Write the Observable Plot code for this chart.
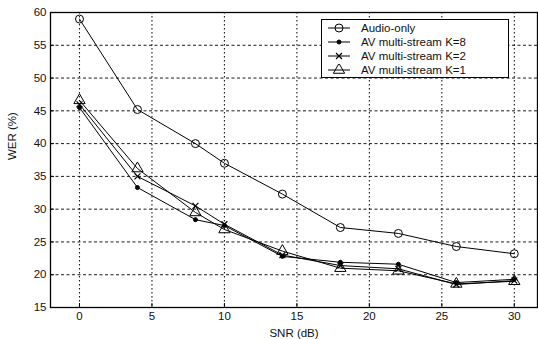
<!DOCTYPE html>
<html>
<head>
<meta charset="utf-8">
<script src="https://cdn.jsdelivr.net/npm/d3@7"></script>
<script src="https://cdn.jsdelivr.net/npm/@observablehq/plot@0.6"></script>
<style>
  html, body { margin: 0; padding: 0; background: #fff; }
  #wrap { position: relative; width: 538px; height: 339px; font-family: "Liberation Sans", Arial, sans-serif; }
  #legend { position: absolute; left: 321px; top: 19px; width: 188px; height: 59px; border: 1.3px solid #000; background: #fff; box-sizing: border-box; }
  .row { position: absolute; left: 0; height: 14px; display: flex; align-items: center; font-size: 11.5px; color: #111; }
  .row svg { margin-left: 5px; margin-right: 10px; }
</style>
</head>
<body>
<div id="wrap"></div>
<script>
const snr = [0, 4, 8, 10, 14, 18, 22, 26, 30];
const audioOnly = [59, 45.2, 40, 37, 32.3, 27.2, 26.3, 24.3, 23.2];
const avK8 = [45.5, 33.3, 28.4, 27.5, 22.8, 21.9, 21.6, 18.8, 19.3];
const avK2 = [46.0, 35.0, 30.5, 27.7, 23.0, 21.4, 20.9, 18.5, 19.1];
const avK1 = [46.6, 36.2, 29.5, 26.9, 23.6, 21.0, 20.6, 18.6, 19.0];
const seriesNames = ["Audio-only", "AV multi-stream K=8", "AV multi-stream K=2", "AV multi-stream K=1"];
const xTicks = [0, 5, 10, 15, 20, 25, 30];
const yTicks = [15, 20, 25, 30, 35, 40, 45, 50, 55, 60];

const styles = [
  {symbol: "circle", r: 4, fill: "none", strokeWidth: 1},
  {symbol: "circle", r: 2, fill: "#000", strokeWidth: 1},
  {symbol: "times", r: 2.8, fill: "none", strokeWidth: 1.2},
  {symbol: "triangle", r: 4.2, fill: "none", strokeWidth: 1}
];
const allSeries = [audioOnly, avK8, avK2, avK1];
const data = [];
allSeries.forEach((vals, i) => vals.forEach((v, j) => data.push({series: seriesNames[i], idx: i, snr: snr[j], wer: v})));

const marks = [
  Plot.gridX(xTicks, {stroke: "#000", strokeOpacity: 0.9, strokeDasharray: "1.5,2.5", strokeWidth: 1.1}),
  Plot.gridY(yTicks, {stroke: "#000", strokeOpacity: 0.9, strokeDasharray: "3,2.5", strokeWidth: 1}),
  Plot.frame({stroke: "#000", strokeWidth: 1.3}),
  Plot.axisX(xTicks, {tickSize: -4, tickPadding: 8, fontSize: 11.5, fill: "#111", label: null}),
  Plot.axisY(yTicks, {tickSize: -4, tickPadding: 8, fontSize: 11.5, fill: "#111", label: null}),
  Plot.text(["SNR (dB)"], {frameAnchor: "bottom", dy: 29, fontSize: 11.5, fill: "#111"}),
  Plot.text(["WER (%)"], {frameAnchor: "left", dx: -38, rotate: -90, fontSize: 11.5, fill: "#111"})
];
styles.forEach((s, i) => {
  const d = data.filter(e => e.idx === i);
  marks.push(Plot.line(d, {x: "snr", y: "wer", stroke: "#000", strokeWidth: 1}));
  marks.push(Plot.dot(d, {x: "snr", y: "wer", symbol: () => s.symbol, r: s.r, stroke: "#000", fill: s.fill, strokeWidth: s.strokeWidth}));
});

const chart = Plot.plot({
  width: 538,
  height: 339,
  marginLeft: 50,
  marginRight: 1,
  marginTop: 12,
  marginBottom: 32,
  style: {fontFamily: "'Liberation Sans', Arial, sans-serif", background: "#fff", overflow: "visible"},
  x: {domain: [-2, 31.6]},
  y: {domain: [15, 60]},
  marks
});
const wrap = document.getElementById("wrap");
wrap.appendChild(chart);

// legend
const legend = d3.select(wrap).append("div").attr("id", "legend");
seriesNames.forEach((name, i) => {
  const row = legend.append("div").attr("class", "row").style("top", (1 + i * 14) + "px");
  const svg = row.append("svg").attr("width", 24).attr("height", 12);
  svg.append("line").attr("x1", 1).attr("x2", 23).attr("y1", 6).attr("y2", 6).attr("stroke", "#000").attr("stroke-width", 1);
  const s = styles[i];
  svg.append("path")
    .attr("transform", "translate(12,6)")
    .attr("d", d3.symbol(s.symbol === "circle" ? d3.symbolCircle : s.symbol === "times" ? d3.symbolTimes : d3.symbolTriangle, Math.PI * s.r * s.r)())
    .attr("fill", s.fill).attr("stroke", "#000").attr("stroke-width", s.strokeWidth);
  row.append("span").text(name);
});
</script>
</body>
</html>
